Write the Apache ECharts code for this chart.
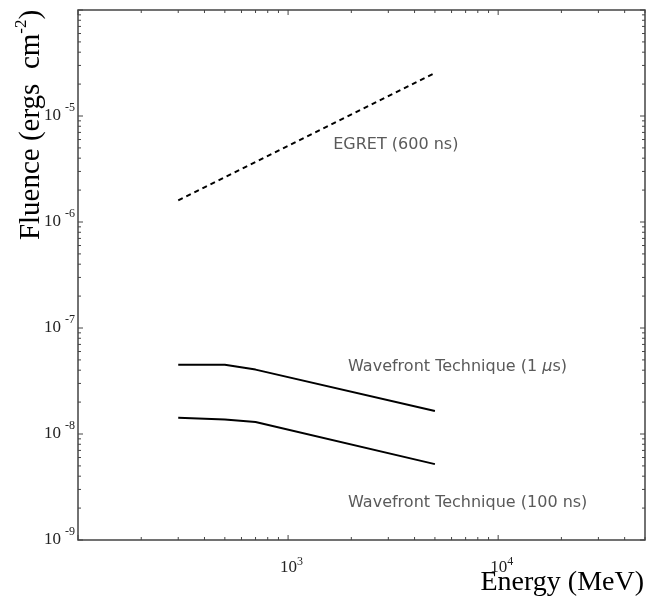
<!DOCTYPE html>
<html>
<head>
<meta charset="utf-8">
<script src="https://cdn.jsdelivr.net/npm/echarts@6/dist/echarts.min.js"></script>
<style>html,body{margin:0;padding:0;background:#fff}#c{width:648px;height:601px}</style>
</head>
<body>
<div id="c"></div>
<script>
// ---- axis ranges ----
const energyMin = 100, energyMax = 50000;
const fluenceMin = 1e-9, fluenceMax = 1e-4;
// ---- series data ----
const egretEnergy = [300, 5000];
const egretFluence = [1.6e-6, 2.55e-5];
const wf1usEnergy = [300, 500, 700, 5000];
const wf1usFluence = [4.5e-8, 4.5e-8, 4.05e-8, 1.65e-8];
const wf100nsEnergy = [300, 500, 700, 5000];
const wf100nsFluence = [1.42e-8, 1.37e-8, 1.3e-8, 5.2e-9];
// ---- tick labels ----
const xLabelExps = [3, 4];
const yLabelExps = [-9, -8, -7, -6, -5];
const xDecades = [100, 1000, 10000];
const yDecades = [1e-9, 1e-8, 1e-7, 1e-6, 1e-5, 1e-4];
const minorMult = [2, 3, 4, 5, 6, 7, 8, 9];
// ---- annotations (data coords) ----
const annotations = [
  {text: 'EGRET (600 ns)', at: [1640, 5.4e-6]},
  {text: 'Wavefront Technique (1 {i|μ}s)', at: [1930, 4.33e-8]},
  {text: 'Wavefront Technique (100 ns)', at: [1930, 2.23e-9]}
];

const xTicks = [], yTicks = [];
xDecades.forEach(d => {
  xTicks.push([d, fluenceMin, 1]);
  minorMult.forEach(m => { if (m * d <= energyMax) xTicks.push([m * d, fluenceMin, 0]); });
});
yDecades.forEach(d => {
  yTicks.push([energyMin, d, 1]);
  if (d < fluenceMax) minorMult.forEach(m => yTicks.push([energyMin, m * d, 0]));
});

const toPairs = (xs, ys) => xs.map((x, i) => [x, ys[i]]);
const tickColor = '#444';
const serif = 'Liberation Serif';

const chart = echarts.init(document.getElementById('c'), null, {renderer: 'canvas'});
const option = {
  animation: false,
  backgroundColor: '#fff',
  grid: {left: 78, top: 10, right: 2, bottom: 61, show: true, borderColor: '#444', borderWidth: 1.5, backgroundColor: 'transparent'},
  xAxis: {
    type: 'log', logBase: 10, min: energyMin, max: energyMax,
    axisLine: {show: false}, axisTick: {show: false}, splitLine: {show: false}, minorTick: {show: false},
    axisLabel: {
      margin: 16,
      formatter: v => {
        const e = Math.round(Math.log10(v));
        if (Math.abs(Math.log10(v) - e) > 1e-6 || xLabelExps.indexOf(e) < 0) return '';
        return '{b|10}{s|' + e + '}';
      },
      rich: {
        b: {fontFamily: serif, fontSize: 17, color: '#222', padding: [0, 0, 0, 7]},
        s: {fontFamily: serif, fontSize: 12, color: '#222', padding: [0, 0, 12, 0]}
      }
    }
  },
  yAxis: {
    type: 'log', logBase: 10, min: fluenceMin, max: fluenceMax,
    axisLine: {show: false}, axisTick: {show: false}, splitLine: {show: false}, minorTick: {show: false},
    axisLabel: {
      margin: 3,
      formatter: v => {
        const e = Math.round(Math.log10(v));
        if (Math.abs(Math.log10(v) - e) > 1e-6 || yLabelExps.indexOf(e) < 0) return '';
        return '{b|10}{s|' + e + '}';
      },
      rich: {
        b: {fontFamily: serif, fontSize: 17, color: '#222', padding: [0, 4, 0, 0]},
        s: {fontFamily: serif, fontSize: 12, color: '#222', padding: [0, 0, 16, 0]}
      }
    }
  },
  series: [
    {type: 'line', data: toPairs(egretEnergy, egretFluence), showSymbol: false, symbol: 'none',
     lineStyle: {color: '#000', width: 2, type: [5, 4]}},
    {type: 'line', data: toPairs(wf1usEnergy, wf1usFluence), showSymbol: false, symbol: 'none',
     lineStyle: {color: '#000', width: 2}},
    {type: 'line', data: toPairs(wf100nsEnergy, wf100nsFluence), showSymbol: false, symbol: 'none',
     lineStyle: {color: '#000', width: 2}},
    {type: 'custom', silent: true, clip: false, z: 5, encode: {x: 0, y: 1}, data: xTicks,
     renderItem: (params, api) => {
       const p = api.coord([api.value(0), fluenceMin]);
       const cs = params.coordSys;
       const len = api.value(2) ? 5 : 3;
       const st = {stroke: tickColor, lineWidth: 1};
       return {type: 'group', children: [
         {type: 'line', shape: {x1: p[0], y1: cs.y + cs.height, x2: p[0], y2: cs.y + cs.height - len}, style: st},
         {type: 'line', shape: {x1: p[0], y1: cs.y, x2: p[0], y2: cs.y + len}, style: st}
       ]};
     }},
    {type: 'custom', silent: true, clip: false, z: 5, encode: {x: 0, y: 1}, data: yTicks,
     renderItem: (params, api) => {
       const p = api.coord([energyMin, api.value(1)]);
       const cs = params.coordSys;
       const len = api.value(2) ? 5 : 3;
       const st = {stroke: tickColor, lineWidth: 1};
       return {type: 'group', children: [
         {type: 'line', shape: {x1: cs.x, y1: p[1], x2: cs.x + len, y2: p[1]}, style: st},
         {type: 'line', shape: {x1: cs.x + cs.width, y1: p[1], x2: cs.x + cs.width - len, y2: p[1]}, style: st}
       ]};
     }}
  ]
};
chart.setOption(option);

const graphics = annotations.map(a => {
  const p = chart.convertToPixel({gridIndex: 0}, a.at);
  return {
    type: 'text', x: p[0], y: p[1], silent: true,
    style: {
      text: a.text, fill: '#5a5a5a', font: '16px "DejaVu Sans"', textAlign: 'left', textVerticalAlign: 'middle',
      rich: {i: {fontStyle: 'italic', fontSize: 16, fontFamily: 'DejaVu Sans', fill: '#5a5a5a'}}
    }
  };
});
graphics.push({
  type: 'text', x: 31, y: 125, rotation: Math.PI / 2, silent: true,
  style: {
    text: '{t|Fluence (ergs  cm}{s|-2}{t|)}', textAlign: 'center', textVerticalAlign: 'middle',
    rich: {
      t: {fontFamily: serif, fontSize: 29, fill: '#000'},
      s: {fontFamily: serif, fontSize: 17, fill: '#000', padding: [0, 0, 18, 0]}
    }
  }
});
graphics.push({
  type: 'text', x: 644, y: 583, silent: true,
  style: {text: 'Energy (MeV)', font: '28px "Liberation Serif"', fill: '#000', textAlign: 'right', textVerticalAlign: 'middle'}
});
chart.setOption({graphic: graphics});
</script>
</body>
</html>
